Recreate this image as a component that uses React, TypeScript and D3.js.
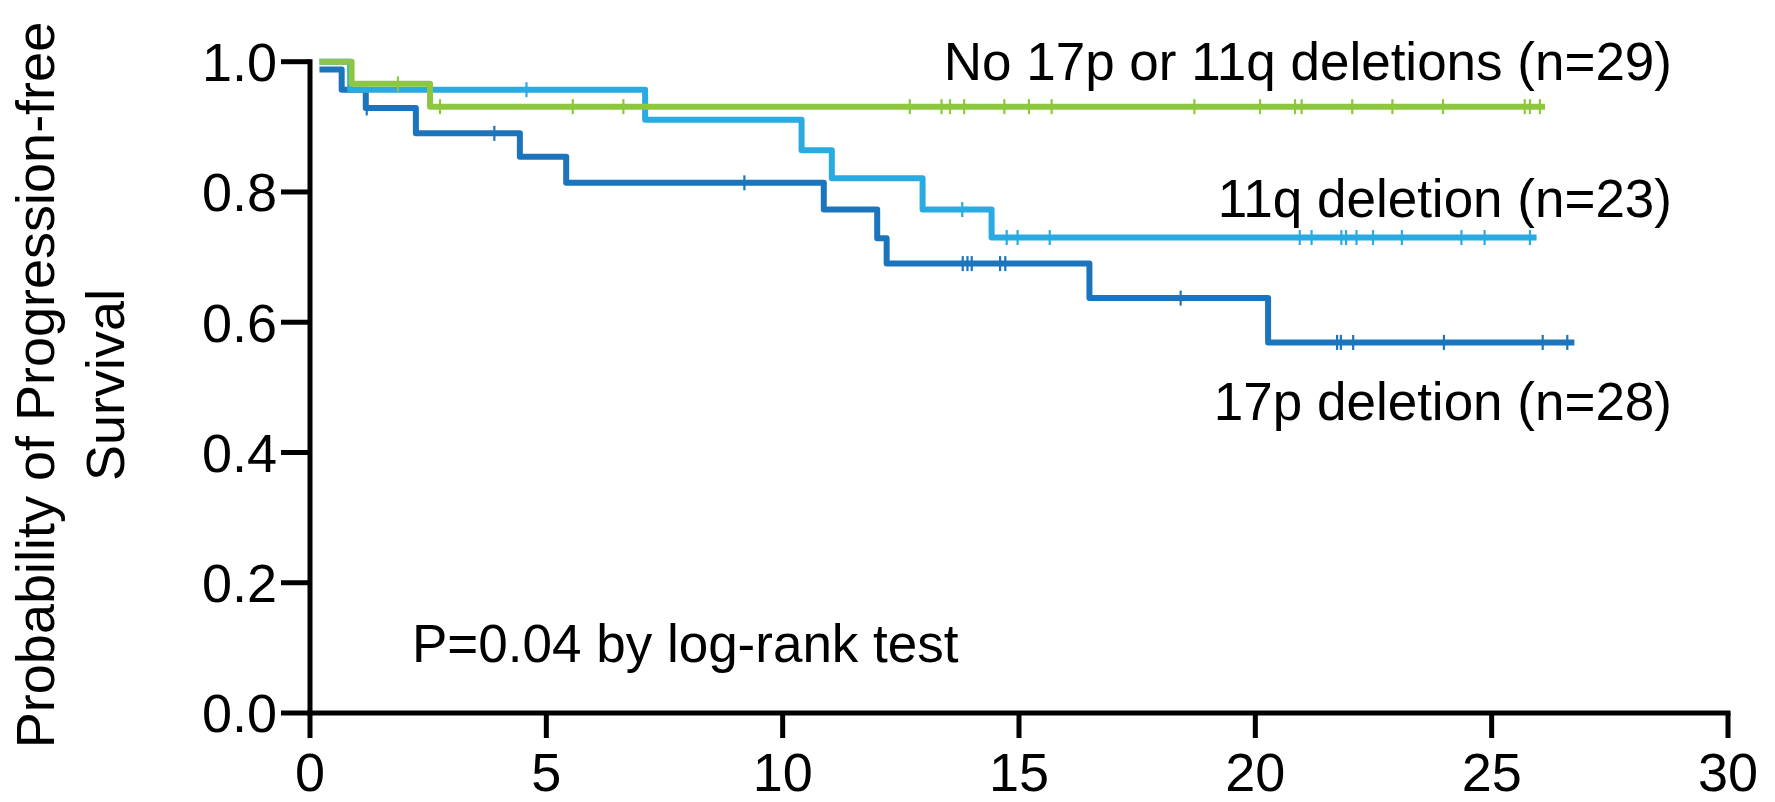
import React, { useEffect, useRef } from "react";
import * as d3 from "d3";

// ---- Data ----
const xTicks = [0, 5, 10, 15, 20, 25, 30];
const yTicks = [0.0, 0.2, 0.4, 0.6, 0.8, 1.0];

// No 17p or 11q deletions (n=29)
const noDelTimes = [0.2, 0.88, 2.54];
const noDelSurv = [1.0, 0.966, 0.931];
const noDelEnd = 26.13;
const noDelCensor = [1.86, 2.75, 5.56, 6.63, 12.69, 13.36, 13.54, 13.84, 14.69, 15.21, 15.69, 18.71, 20.1, 20.84, 20.98, 22.05, 22.9, 23.97, 25.7, 25.81, 26.02];

// 11q deletion (n=23)
const del11qTimes = [0.2, 0.85, 7.09, 10.4, 11.04, 12.96, 14.42];
const del11qSurv = [1.0, 0.957, 0.911, 0.864, 0.821, 0.773, 0.73];
const del11qEnd = 25.95;
const del11qCensor = [4.58, 13.8, 14.74, 14.97, 15.65, 20.94, 21.19, 21.82, 21.92, 22.14, 22.49, 23.1, 24.36, 24.85, 25.81];

// 17p deletion (n=28)
const del17pTimes = [0.2, 0.67, 1.18, 2.24, 4.44, 5.42, 10.87, 12.0, 12.2, 16.49, 20.27];
const del17pSurv = [0.988, 0.957, 0.929, 0.89, 0.854, 0.814, 0.773, 0.729, 0.69, 0.637, 0.569];
const del17pEnd = 26.75;
const del17pCensor = [1.2, 3.9, 9.19, 13.81, 13.91, 14.0, 14.6, 14.71, 18.42, 21.73, 21.81, 22.07, 23.99, 26.08, 26.6];

const seriesLabels = ["No 17p or 11q deletions (n=29)", "11q deletion (n=23)", "17p deletion (n=28)"];
const pText = "P=0.04 by log-rank test";
const yTitle = ["Probability of Progression-free", "Survival"];

const colors = { noDel: "#8dc63f", del11q: "#29abe2", del17p: "#1c75bc" };

const W = 1775;
const H = 802;
const FONT = "Arial, 'Liberation Sans', Helvetica, sans-serif";

export default function App() {
  const ref = useRef<SVGSVGElement>(null);

  useEffect(() => {
    const svg = d3.select(ref.current);
    svg.selectAll("*").remove();

    const x = d3.scaleLinear().domain([0, 30]).range([310, 1728]);
    const y = d3.scaleLinear().domain([0, 1]).range([713, 61.7]);

    const series = [
      { times: noDelTimes, surv: noDelSurv, end: noDelEnd, censor: noDelCensor, color: colors.noDel },
      { times: del11qTimes, surv: del11qSurv, end: del11qEnd, censor: del11qCensor, color: colors.del11q },
      { times: del17pTimes, surv: del17pSurv, end: del17pEnd, censor: del17pCensor, color: colors.del17p },
    ];

    const line = d3
      .line<[number, number]>()
      .x((d) => x(d[0]))
      .y((d) => y(d[1]))
      .curve(d3.curveStepAfter);

    // draw order: dark blue, light blue, green on top
    const order = [2, 1, 0];
    const g = svg.append("g");
    order.forEach((i) => {
      const s = series[i];
      const pts: [number, number][] = s.times.map((t, k) => [t, s.surv[k]]);
      pts.push([s.end, s.surv[s.surv.length - 1]]);
      g.append("path")
        .attr("d", line(pts))
        .attr("fill", "none")
        .attr("stroke", s.color)
        .attr("stroke-width", 6)
        .attr("stroke-linejoin", "round");
      const survAt = (t: number) => {
        let v = s.surv[0];
        for (let k = 0; k < s.times.length; k++) if (s.times[k] <= t) v = s.surv[k];
        return v;
      };
      g.selectAll(null)
        .data(s.censor)
        .enter()
        .append("line")
        .attr("x1", (t) => x(t))
        .attr("x2", (t) => x(t))
        .attr("y1", (t) => y(survAt(t)) - 7.5)
        .attr("y2", (t) => y(survAt(t)) + 7.5)
        .attr("stroke", s.color)
        .attr("stroke-width", 2.2);
    });

    // axes
    const ax = svg.append("g");
    ax.append("line").attr("x1", x(0)).attr("x2", x(0)).attr("y1", y(1) - 2.5).attr("y2", y(0) + 2.5)
      .attr("stroke", "#000").attr("stroke-width", 5);
    ax.append("line").attr("x1", x(0) - 2.5).attr("x2", x(30) + 2.5).attr("y1", y(0)).attr("y2", y(0))
      .attr("stroke", "#000").attr("stroke-width", 5);

    yTicks.forEach((v) => {
      ax.append("line").attr("x1", x(0) - 29).attr("x2", x(0)).attr("y1", y(v)).attr("y2", y(v))
        .attr("stroke", "#000").attr("stroke-width", 5);
      ax.append("text").attr("x", 277).attr("y", y(v)).attr("dy", "0.36em")
        .attr("text-anchor", "end").attr("font-family", FONT).attr("font-size", 54)
        .text(v.toFixed(1));
    });
    xTicks.forEach((v) => {
      ax.append("line").attr("x1", x(v)).attr("x2", x(v)).attr("y1", y(0)).attr("y2", y(0) + 25)
        .attr("stroke", "#000").attr("stroke-width", 5);
      ax.append("text").attr("x", x(v)).attr("y", 791)
        .attr("text-anchor", "middle").attr("font-family", FONT).attr("font-size", 54)
        .text(String(v));
    });

    // y title
    const yt = svg.append("text")
      .attr("transform", "translate(0,385) rotate(-90)")
      .attr("text-anchor", "middle").attr("font-family", FONT).attr("font-size", 54);
    yt.append("tspan").attr("x", 0).attr("y", 54).text(yTitle[0]);
    yt.append("tspan").attr("x", 0).attr("y", 124).text(yTitle[1]);

    // series labels
    const labelY = [80, 217, 420];
    seriesLabels.forEach((t, i) => {
      svg.append("text").attr("x", 1672).attr("y", labelY[i]).attr("text-anchor", "end")
        .attr("font-family", FONT).attr("font-size", 53).text(t);
    });

    svg.append("text").attr("x", 412).attr("y", 662).attr("font-family", FONT).attr("font-size", 53)
      .text(pText);
  }, []);

  return (
    <svg
      ref={ref}
      width={W}
      height={H}
      style={{ position: "absolute", left: 0, top: 0, background: "#fff" }}
    />
  );
}
